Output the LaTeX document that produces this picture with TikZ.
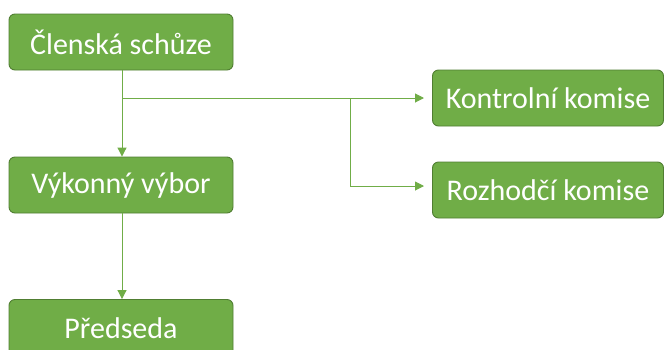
\documentclass[tikz,border=0pt]{standalone}
\usepackage{fontspec}
\setmainfont{Carlito}
\usetikzlibrary{arrows.meta}
\definecolor{boxfill}{HTML}{70AD47}
\definecolor{boxedge}{HTML}{507E32}
\definecolor{linkcol}{HTML}{70AD47}
\begin{document}
\begin{tikzpicture}[x=1pt,y=-1pt,
  orgbox/.style={draw=boxedge, line width=0.9pt, fill=boxfill, rounded corners=6pt,
    text=white, font=\fontsize{30}{34}\selectfont, inner sep=0pt, anchor=center},
  link/.style={draw=linkcol, line width=1pt, -{Triangle[length=9pt,width=9pt]}},
  plain/.style={draw=linkcol, line width=1pt}]
  \useasboundingbox (0,0) rectangle (665,349);
  \clip (0,0) rectangle (665,349);
  % left column
  \node[orgbox, minimum width=224pt, minimum height=56pt] (clen) at (121,42) {Členská schůze};
  \node[orgbox, minimum width=224pt, minimum height=56pt] (vykon) at (121,185) {Výkonný výbor};
  \node[orgbox, minimum width=224pt, minimum height=57pt] (pred) at (121,328) {Předseda};
  % right column
  \node[orgbox, minimum width=231pt, minimum height=56pt] (kontr) at (548,98) {Kontrolní komise};
  \node[orgbox, minimum width=231pt, minimum height=56pt] (rozh) at (548,190) {Rozhodčí komise};
  % junctions
  \coordinate (j1) at (122,98);
  \coordinate (j2) at (350,98);
  \coordinate (j3) at (350,186);
  \coordinate (t1) at (424,98);
  \coordinate (t2) at (424,186);
  % connectors
  \draw[plain] (clen.south -| j1) -- (j1);
  \draw[link] (j1) -- (vykon.north -| j1);
  \draw[link] (j1) -- (t1);
  \draw[plain] (j2) -- (j3);
  \draw[link] (j3) -- (t2);
  \draw[link] (vykon.south -| j1) -- (pred.north -| j1);
\end{tikzpicture}
\end{document}
